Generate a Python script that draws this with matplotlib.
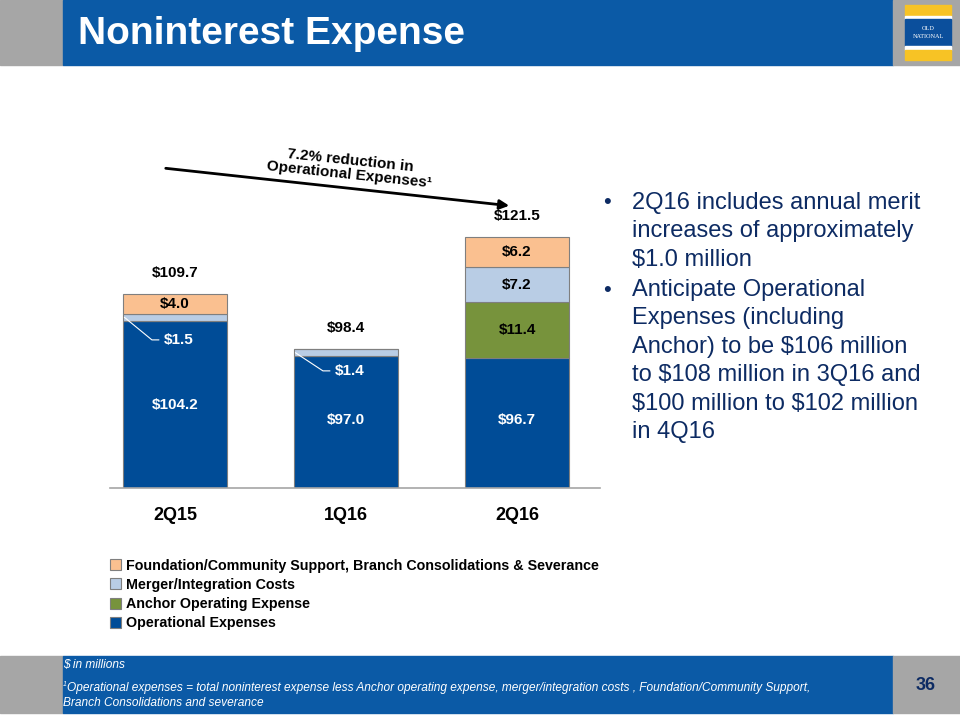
"""
Noninterest Expense – stacked bar slide.
"""
import matplotlib
matplotlib.use("Agg")
import matplotlib.pyplot as plt
from matplotlib.patches import Rectangle

# ── data ─────────────────────────────────────────────────────────────────────
quarters = ["2Q15", "1Q16", "2Q16"]
operational = [104.2, 97.0, 96.7]
anchor = [0.0, 0.0, 11.4]
merger = [1.5, 1.4, 7.2]
foundation = [4.0, 0.0, 6.2]
totals = [109.7, 98.4, 121.5]

series_names = [
    "Foundation/Community Support, Branch Consolidations & Severance",
    "Merger/Integration Costs",
    "Anchor Operating Expense",
    "Operational Expenses",
]

C = {
    "oper": "#004C97",
    "anchor": "#77933C",
    "merger": "#B9CDE5",
    "found": "#FAC090",
    "band": "#0B5AA6",
    "side": "#A6A6A6",
    "navy": "#0D2B63",
}
SANS = ["Liberation Sans", "DejaVu Sans"]

W, H = 960, 720
fig = plt.figure(figsize=(9.6, 7.2), dpi=100)
fig.patch.set_facecolor("white")

# full-figure overlay in pixel coords (y down)
bg = fig.add_axes([0, 0, 1, 1])
bg.set_xlim(0, W)
bg.set_ylim(H, 0)
bg.axis("off")

# header band
bg.add_patch(Rectangle((0, 0), 63, 65, color=C["side"]))
bg.add_patch(Rectangle((63, 0), 830, 65, color=C["band"]))
bg.add_patch(Rectangle((893, 0), 67, 65, color=C["side"]))
bg.text(78, 34, "Noninterest Expense", color="white", fontsize=28,
        fontweight="bold", family=SANS, va="center", ha="left")

# logo
bg.add_patch(Rectangle((905, 5), 46, 11, color="#F7C325"))
bg.add_patch(Rectangle((905, 16), 46, 3, color="white"))
bg.add_patch(Rectangle((905, 19), 46, 27, color="#0B4F9C"))
bg.add_patch(Rectangle((905, 46), 46, 4, color="white"))
bg.add_patch(Rectangle((905, 50), 46, 10, color="#F7C325"))
bg.text(928, 28, "OLD", color="white", fontsize=4.5, ha="center", va="center",
        family=["Liberation Serif", "DejaVu Serif"])
bg.text(928, 36, "NATIONAL", color="white", fontsize=4.5, ha="center",
        va="center", family=["Liberation Serif", "DejaVu Serif"])

# footer band
bg.add_patch(Rectangle((0, 656), 63, 57, color=C["side"]))
bg.add_patch(Rectangle((63, 656), 830, 57, color=C["band"]))
bg.add_patch(Rectangle((893, 656), 67, 57, color=C["side"]))
foot = dict(color="white", fontsize=8.6, style="italic", family=SANS,
            va="center", parse_math=False)
bg.text(63, 665, "$ in millions", **foot)
bg.text(63, 684, "1", color="white", fontsize=5, style="italic", family=SANS,
        ha="left", va="center")
bg.text(67, 688, "Operational expenses = total noninterest expense less "
        "Anchor operating expense, merger/integration costs , Foundation/"
        "Community Support,", **foot)
bg.text(63, 703, "Branch Consolidations and severance", **foot)
bg.text(926, 685, "36", color=C["navy"], fontsize=13, fontweight="bold",
        family=SANS, ha="center", va="center")

# bullets
bullets = [
    (201, "2Q16 includes annual merit\nincreases of approximately\n$1.0 million"),
    (288, "Anticipate Operational\nExpenses (including\nAnchor) to be $106 million\n"
          "to $108 million in 3Q16 and\n$100 million to $102 million\nin 4Q16"),
]
for y, txt in bullets:
    bg.text(603, y + 2, "•", color=C["navy"], fontsize=16, family=SANS,
            va="center", ha="left")
    bg.text(632, y - 9, txt, color=C["navy"], fontsize=17, family=SANS,
            va="top", ha="left", linespacing=1.38, parse_math=False)

# ── chart ────────────────────────────────────────────────────────────────────
ymin, ytop = 70, 70 + (488 - 130) / 4.88
ax = fig.add_axes([110 / W, (H - 488) / H, 490 / W, 358 / H])
ax.patch.set_alpha(0)
ax.set_xlim(-0.38, 2.485)
ax.set_ylim(ymin, ytop)
for s in ["left", "right", "top"]:
    ax.spines[s].set_visible(False)
ax.spines["bottom"].set_color("#A6A6A6")
ax.spines["bottom"].set_linewidth(1.2)
ax.set_yticks([])
ax.set_xticks(range(len(quarters)))
ax.set_xticklabels(quarters, fontsize=13, fontweight="bold", family=SANS)
ax.tick_params(axis="x", length=0, pad=14)

x = list(range(len(quarters)))
bw = 0.61
edge = dict(edgecolor="#7F7F7F", linewidth=0.8, width=bw)
b0 = [ymin] * 3
ax.bar(x, [o - ymin for o in operational], bottom=b0, color=C["oper"],
       label=series_names[3], **edge)
b1 = operational
ax.bar(x, anchor, bottom=b1, color=C["anchor"], label=series_names[2], **edge)
b2 = [a + b for a, b in zip(b1, anchor)]
ax.bar(x, merger, bottom=b2, color=C["merger"], label=series_names[1], **edge)
b3 = [a + b for a, b in zip(b2, merger)]
ax.bar(x, foundation, bottom=b3, color=C["found"], label=series_names[0], **edge)

lbl = dict(ha="center", va="center", fontsize=11, fontweight="bold",
           family=SANS, parse_math=False)
# operational labels
for i, v in enumerate(operational):
    mid = (ymin + v) / 2 if i == 0 else (ymin + v) / 2 + 0.5
    ax.text(i, mid, f"${v:.1f}", color="white", **lbl)
# anchor
ax.text(2, b1[2] + anchor[2] / 2, f"${anchor[2]:.1f}", color="black", **lbl)
# merger
ax.text(2, b2[2] + merger[2] / 2, f"${merger[2]:.1f}", color="black", **lbl)
# foundation
for i in (0, 2):
    ax.text(i, b3[i] + foundation[i] / 2, f"${foundation[i]:.1f}",
            color="black", **lbl)
# totals
for i, t in enumerate(totals):
    ax.text(i, t + 4.3, f"${t:.1f}", color="black", **lbl)

# leader lines for small merger segments
for i, dy in ((0, 4.6), (1, 3.7)):
    x0 = i - bw / 2 + 0.01
    y0 = b2[i] + merger[i] / 2
    ax.plot([x0, x0 + 0.16, x0 + 0.2], [y0, y0 - dy, y0 - dy],
            color="white", lw=0.8)
    ax.text(i + 0.02, y0 - dy, f"${merger[i]:.1f}", color="white", **lbl)

# legend
handles, labels = ax.get_legend_handles_labels()
leg = fig.legend(handles[::-1], labels[::-1], loc="upper left",
                 bbox_to_anchor=(104 / W, 1 - 553 / H), frameon=False,
                 handlelength=0.8, handleheight=0.8, handletextpad=0.35,
                 labelspacing=0.36, borderaxespad=0,
                 prop=dict(family=SANS, weight="bold", size=10.3))

# reduction arrow
bg.annotate("", xy=(512, 206), xytext=(163, 168),
            arrowprops=dict(arrowstyle="-|>", color="black", lw=2,
                            mutation_scale=14))
bg.text(350, 168, "7.2% reduction in\nOperational Expenses\u00b9",
        ha="center", va="center", rotation=-6, fontsize=11,
        fontweight="bold", family=SANS, linespacing=1.0)

plt.savefig("out.png", dpi=100, facecolor=fig.get_facecolor())
plt.close()
